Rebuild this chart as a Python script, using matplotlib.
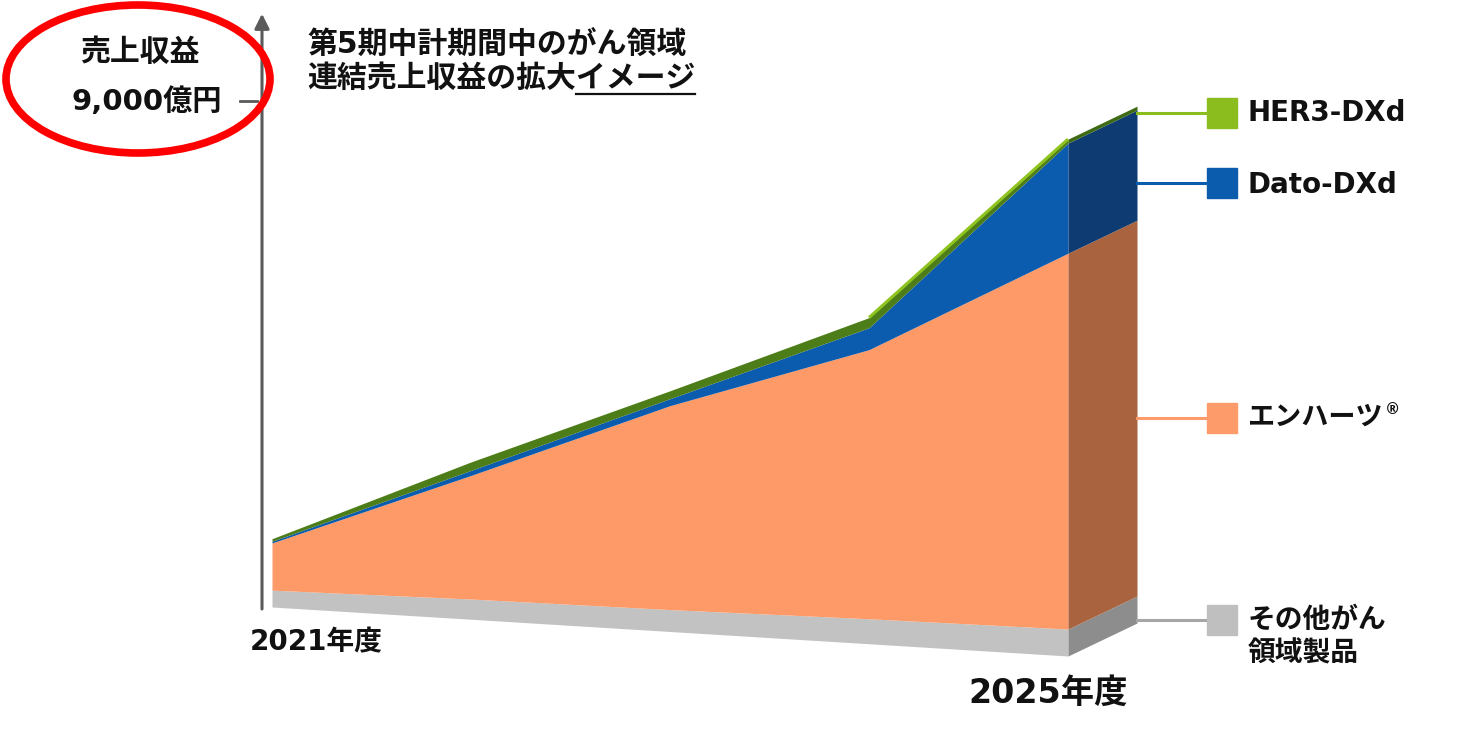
import numpy as np
import matplotlib
matplotlib.use('Agg')
import matplotlib.pyplot as plt
import matplotlib.transforms as mtransforms
from matplotlib.patches import Ellipse, Rectangle
from matplotlib.lines import Line2D

# ---------------- data (億円) ----------------
years = ['2021年度', '2022年度', '2023年度', '2024年度', '2025年度']
other_cancer = [300, 360, 390, 445, 480]      # その他がん領域製品
enhertu = [840, 2200, 3630, 4790, 6690]       # エンハーツ
dato_dxd = [30, 90, 125, 390, 1960]           # Dato-DXd
her3_dxd = [45, 150, 140, 180, 70]            # HER3-DXd
series_labels = ['その他がん\n領域製品', 'エンハーツ', 'Dato-DXd', 'HER3-DXd']
axis_label = '売上収益'
axis_tick_value = 9000
axis_tick_label = '9,000億円'
title_lines = ['第5期中計期間中のがん領域', '連結売上収益の拡大イメージ']
underlined_part = 'イメージ'

# ---------------- style ----------------
W, H, DPI = 1463, 729, 100
CJK = ['DejaVu Sans', 'Noto Sans CJK JP']
TXT = '#111111'
front_cols = ['#c2c2c2', '#fd9a68', '#0b5cae', '#4d7d18']
side_cols = ['#8d8d8d', '#a9643f', '#0e3c72', '#3f6a14']
legend_cols = ['#bfbfbf', '#fd9b6a', '#0b5cad', '#8cbd1e']
lead_cols = ['#a6a6a6', '#fd9b6a', '#0b5cad', '#8cbd1e']
HER3_EDGE = '#8fc31f'

X0_PX, PX_PER_YEAR, BASE_PX, UNIT = 272, 199, 607, 17.8   # layout of the pseudo-3D plane
SLOPE = 12.25 * UNIT          # baseline drop per year (perspective)
SIDE_DX, SIDE_DY = 69, 33     # depth offset of side face, px

fig = plt.figure(figsize=(W / DPI, H / DPI), dpi=DPI)
ax = fig.add_axes([0, 0, 1, 1])
ax.set_xlim(-X0_PX / PX_PER_YEAR, (W - X0_PX) / PX_PER_YEAR)
ax.set_ylim(-(H - BASE_PX) * UNIT, BASE_PX * UNIT)
ax.set_autoscale_on(False)
ax.axis('off')

def P(x, y):
    """figure-pixel (from top-left) -> figure fraction"""
    return x / W, 1 - y / H

shear = mtransforms.Affine2D(np.array([[1, 0, 0], [-SLOPE, 1, 0], [0, 0, 1]])) + ax.transData
n = len(years)
xs = np.arange(n)
dx_data = SIDE_DX / PX_PER_YEAR
side = mtransforms.Affine2D(np.array([[dx_data, 0, n - 1],
                                      [SIDE_DY * UNIT, 1, -SLOPE * (n - 1)],
                                      [0, 0, 1]])) + ax.transData

layers = [np.array(other_cancer), np.array(enhertu), np.array(dato_dxd), np.array(her3_dxd)]
bottom = np.zeros(n)
for i, lay in enumerate(layers):
    top = bottom + lay
    ax.fill_between(xs, bottom, top, transform=shear, color=front_cols[i], lw=0, zorder=2)
    ax.fill_between([0, 1], [bottom[-1]] * 2, [top[-1]] * 2, transform=side,
                    color=side_cols[i], lw=0, zorder=2)
    bottom = top
# bright edge of HER3-DXd along the last segment
ax.plot(xs[-2:], bottom[-2:], transform=shear, color=HER3_EDGE, lw=2.2, zorder=3,
        solid_capstyle='butt')

# ---------------- vertical axis ----------------
ax_x = -10 / PX_PER_YEAR
ax.annotate('', xy=(ax_x, 10560), xytext=(ax_x, -36),
            arrowprops=dict(arrowstyle='-|>', color='#5a5a5a', lw=2.2, mutation_scale=22,
                            shrinkA=0, shrinkB=0), zorder=3)
ax.plot([-32 / PX_PER_YEAR, -15 / PX_PER_YEAR], [axis_tick_value] * 2, color='#5a5a5a', lw=2, zorder=3)
ax.text(-50 / PX_PER_YEAR, axis_tick_value, axis_tick_label, ha='right', va='center',
        fontsize=21, fontweight='bold', family=CJK, color=TXT)
fig.text(*P(140, 52), axis_label, ha='center', va='center', fontsize=21.5,
         fontweight='bold', family=CJK, color=TXT)

# red highlight ellipse
fig.patches.append(Ellipse(P(138, 79), 264 / W, 148 / H, transform=fig.transFigure,
                           fill=False, edgecolor='#ff0000', lw=5.5, zorder=5))

# title
fig.text(*P(307, 45), title_lines[0], ha='left', va='center', fontsize=21.5,
         fontweight='bold', family=CJK, color=TXT)
t2 = fig.text(*P(307, 78), title_lines[1], ha='left', va='center', fontsize=21.5,
              fontweight='bold', family=CJK, color=TXT)

# year labels
fig.text(*P(316, 642), years[0], ha='center', va='center', fontsize=20,
         fontweight='bold', family=CJK, color=TXT)
fig.text(*P(1048, 693), years[-1], ha='center', va='center', fontsize=24,
         fontweight='bold', family=CJK, color=TXT)

# ---------------- legend with leader lines ----------------
leg_y = [620, 418, 183, 113]
for i in range(4):
    y = leg_y[i]
    fig.lines.append(Line2D([1137 / W, 1210 / W], [1 - y / H] * 2, transform=fig.transFigure,
                            color=lead_cols[i], lw=2.2, zorder=1))
    fig.patches.append(Rectangle(P(1207, y + 15), 30 / W, 30 / H, transform=fig.transFigure,
                                 color=legend_cols[i], zorder=2))
fig.text(*P(1248, 113), series_labels[3], ha='left', va='center', fontsize=20,
         fontweight='bold', family=CJK, color=TXT)
fig.text(*P(1248, 185), series_labels[2], ha='left', va='center', fontsize=20,
         fontweight='bold', family=CJK, color=TXT)
t_enh = fig.text(*P(1248, 418), series_labels[1], ha='left', va='center', fontsize=19.5,
                 fontweight='bold', family=CJK, color=TXT)
fig.text(*P(1248, 637), series_labels[0], ha='left', va='center', fontsize=20,
         fontweight='bold', family=CJK, color=TXT, linespacing=1.25)

fig.canvas.draw()
# registered mark right after エンハーツ
eb = t_enh.get_window_extent()
fig.text((eb.x1 + 1) / W, 1 - 410 / H, '®', ha='left', va='center', fontsize=11,
         fontweight='bold', family=CJK, color=TXT)

# underline under the last characters of the title's second line
bb = t2.get_window_extent()
frac = len(underlined_part) / len(title_lines[1])
x_start = bb.x1 - frac * bb.width
fig.lines.append(Line2D([x_start / W, bb.x1 / W], [1 - 94 / H] * 2,
                        transform=fig.transFigure, color=TXT, lw=1.6))

fig.savefig('out.png', dpi=DPI)
